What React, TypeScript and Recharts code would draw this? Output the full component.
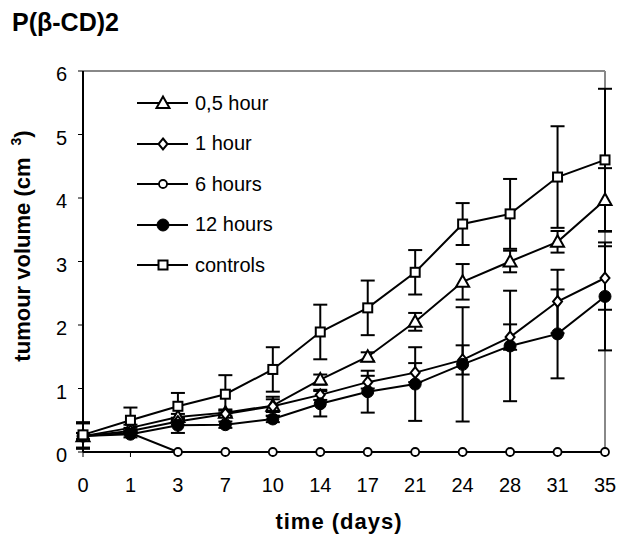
import React from "react";
import {
  LineChart,
  Line,
  XAxis,
  YAxis,
  ErrorBar,
  ReferenceLine,
  Legend,
} from "recharts";

const days = ["0", "1", "3", "7", "10", "14", "17", "21", "24", "28", "31", "35"];

const halfHour = [0.25, 0.38, 0.55, 0.62, 0.73, 1.14, 1.5, 2.05, 2.68, 3.0, 3.31, 3.97];
const halfHourErr = [0.05, 0.05, 0.05, 0.05, 0.1, 0.08, 0.07, 0.14, 0.28, 0.17, 0.17, 0.5];

const oneHour = [0.25, 0.33, 0.48, 0.6, 0.72, 0.9, 1.1, 1.25, 1.45, 1.81, 2.37, 2.74];
const oneHourErr = [0.05, 0.05, 0.05, 0.05, 0.15, 0.08, 0.1, 0.15, 0.23, 0.2, 0.5, 0.5];

const sixHours = [0.25, 0.3, 0, 0, 0, 0, 0, 0, 0, 0, 0, 0];

const twelveHours = [0.25, 0.28, 0.42, 0.43, 0.52, 0.76, 0.95, 1.07, 1.38, 1.67, 1.86, 2.45];
const twelveHoursErr = [0.2, 0.05, 0.12, 0.05, 0.05, 0.2, 0.33, 0.58, 0.9, 0.87, 0.7, 0.85];

const controls = [0.27, 0.5, 0.72, 0.91, 1.3, 1.89, 2.27, 2.83, 3.59, 3.75, 4.33, 4.6];
const controlsErr = [0.2, 0.2, 0.21, 0.3, 0.35, 0.43, 0.43, 0.35, 0.33, 0.55, 0.8, 1.12];

const yTicks = [0, 1, 2, 3, 4, 5, 6];

const data = days.map((d, i) => ({
  day: d,
  halfHour: halfHour[i],
  halfHourErr: halfHourErr[i],
  oneHour: oneHour[i],
  oneHourErr: oneHourErr[i],
  sixHours: sixHours[i],
  twelveHours: twelveHours[i],
  twelveHoursErr: twelveHoursErr[i],
  controls: controls[i],
  controlsErr: controlsErr[i],
}));

const FONT = "'Liberation Sans', Arial, sans-serif";

type Kind = "triangle" | "diamond" | "circle" | "filled" | "square";

const marker = (kind: Kind, cx: number, cy: number, key?: string | number) => {
  const common = { stroke: "#000", strokeWidth: 2, fill: "#fff" };
  switch (kind) {
    case "triangle":
      return (
        <polygon
          key={key}
          points={`${cx},${cy - 6.5} ${cx - 6.5},${cy + 5} ${cx + 6.5},${cy + 5}`}
          {...common}
        />
      );
    case "diamond":
      return (
        <polygon
          key={key}
          points={`${cx},${cy - 5.5} ${cx + 4.5},${cy} ${cx},${cy + 5.5} ${cx - 4.5},${cy}`}
          {...common}
        />
      );
    case "circle":
      return <circle key={key} cx={cx} cy={cy} r={4} {...common} strokeWidth={1.8} />;
    case "filled":
      return <circle key={key} cx={cx} cy={cy} r={6} fill="#000" stroke="#000" />;
    default:
      return <rect key={key} x={cx - 4.5} y={cy - 4.5} width={9} height={9} {...common} />;
  }
};

const dotOf = (kind: Kind) => (p: any) => marker(kind, p.cx, p.cy, p.index);

const series: { key: string; name: string; kind: Kind }[] = [
  { key: "halfHour", name: "0,5 hour", kind: "triangle" },
  { key: "oneHour", name: "1 hour", kind: "diamond" },
  { key: "sixHours", name: "6 hours", kind: "circle" },
  { key: "twelveHours", name: "12 hours", kind: "filled" },
  { key: "controls", name: "controls", kind: "square" },
];

const LegendBox = () => (
  <div style={{ fontFamily: FONT, fontSize: 20, color: "#000" }}>
    {series.map((s) => (
      <div key={s.key} style={{ display: "flex", alignItems: "center", height: 40.5 }}>
        <svg width={52} height={20}>
          <line x1={0} y1={10} x2={51} y2={10} stroke="#000" strokeWidth={2} />
          {marker(s.kind, 26, 10)}
        </svg>
        <span style={{ marginLeft: 6 }}>{s.name}</span>
      </div>
    ))}
  </div>
);

const XTick = (p: any) => (
  <text x={p.x} y={p.y + 35} textAnchor="middle" fontFamily={FONT} fontSize={20} fill="#000">
    {p.payload.value}
  </text>
);

const YTick = (p: any) => (
  <text x={p.x - 11} y={p.y + 10} textAnchor="end" fontFamily={FONT} fontSize={20} fill="#000">
    {p.payload.value}
  </text>
);

const YTitle = () => (
  <text
    transform="translate(30,246) rotate(-90)"
    textAnchor="middle"
    fontFamily={FONT}
    fontSize={22}
    fontWeight="bold"
    fill="#000"
  >
    tumour volume (cm
    <tspan dx={12} dy={-9} fontSize={14}>3</tspan>
    <tspan dy={9}>)</tspan>
  </text>
);

const XTitle = () => (
  <text
    x={339}
    y={529}
    textAnchor="middle"
    fontFamily={FONT}
    fontSize={22}
    fontWeight="bold"
    letterSpacing={1}
    fill="#000"
  >
    time (days)
  </text>
);

export default function App() {
  return (
    <div style={{ position: "absolute", left: 0, top: 0, width: 621, height: 535, background: "#fff" }}>
      <div
        style={{
          position: "absolute",
          left: 12,
          top: 10,
          fontFamily: FONT,
          fontSize: 25,
          lineHeight: "25px",
          fontWeight: "bold",
        }}
      >
        P(β-CD)2
      </div>
      <LineChart
        width={621}
        height={535}
        data={data}
        margin={{ top: 71, right: 16, bottom: 33, left: 33 }}
      >
        <XAxis
          dataKey="day"
          height={50}
          axisLine={{ stroke: "#000", strokeWidth: 2 }}
          tickLine={{ stroke: "#000", strokeWidth: 1 }}
          tickSize={5}
          tickMargin={0}
          tick={<XTick />}
          interval={0}
          label={<XTitle />}
        />
        <YAxis
          width={50}
          domain={[0, 6]}
          ticks={yTicks}
          axisLine={{ stroke: "#000", strokeWidth: 2 }}
          tickLine={{ stroke: "#000", strokeWidth: 1 }}
          tickSize={5}
          tickMargin={0}
          tick={<YTick />}
          label={<YTitle />}
        />
        <ReferenceLine y={6} stroke="#888" strokeWidth={2} />
        <ReferenceLine x="35" stroke="#888" strokeWidth={2} />
        <Legend
          layout="vertical"
          align="center"
          verticalAlign="middle"
          content={<LegendBox />}
          wrapperStyle={{ left: 137, top: 83, width: 220 }}
        />
        {series.map((s) => (
          <Line
            key={s.key}
            dataKey={s.key}
            name={s.name}
            stroke="#000"
            strokeWidth={2}
            dot={dotOf(s.kind)}
            activeDot={false}
            isAnimationActive={false}
          >
            {s.key !== "sixHours" && (
              <ErrorBar
                dataKey={s.key + "Err"}
                direction="y"
                width={7}
                stroke="#000"
                strokeWidth={2}
                isAnimationActive={false}
              />
            )}
          </Line>
        ))}
      </LineChart>
    </div>
  );
}
